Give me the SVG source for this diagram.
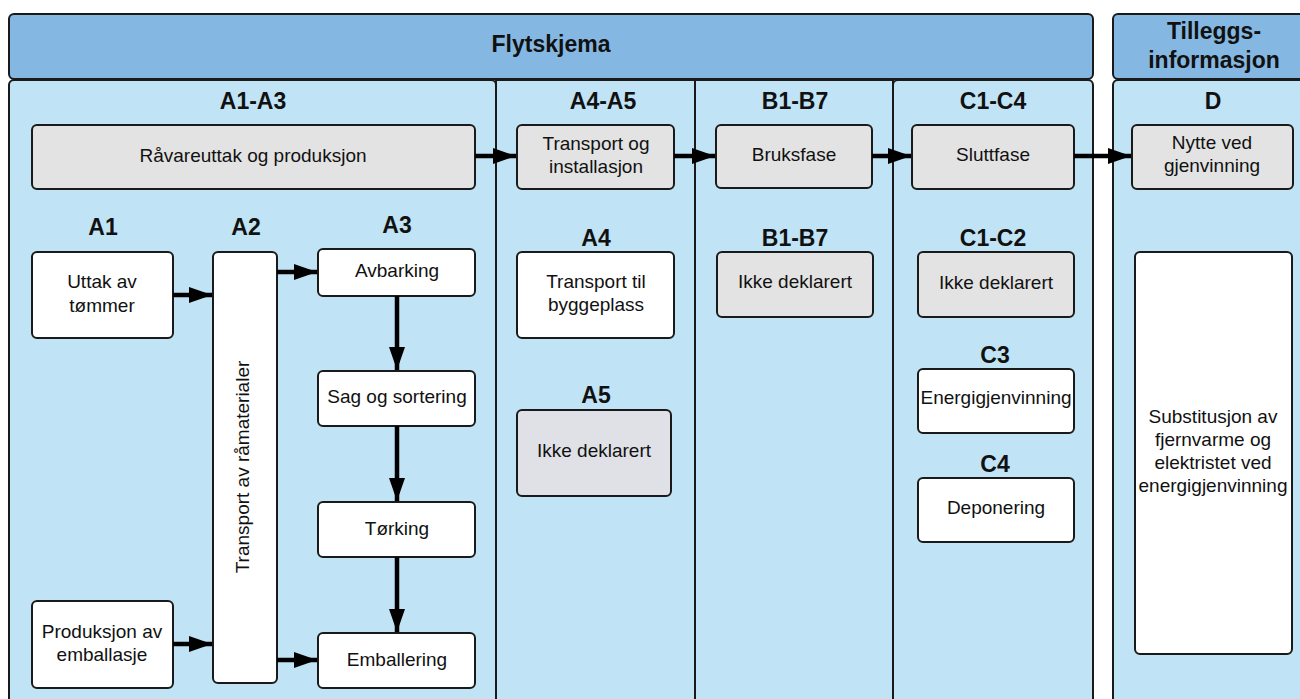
<svg xmlns="http://www.w3.org/2000/svg" width="1300" height="699" viewBox="0 0 1300 699">
<defs>
<style>
.hdr{fill:#84b8e2;stroke:#1a1a1a;stroke-width:2}
.pnl{fill:#c0e3f5;stroke:#1a1a1a;stroke-width:2}
.gray{fill:#e3e3e3;stroke:#1a1a1a;stroke-width:2}
.gray2{fill:#dfe1e6;stroke:#1a1a1a;stroke-width:2}
.wht{fill:#ffffff;stroke:#1a1a1a;stroke-width:2}
.t{font-family:"Liberation Sans",Arial,sans-serif;font-size:19px;fill:#111;text-anchor:middle}
.b{font-family:"Liberation Sans",Arial,sans-serif;font-size:23px;font-weight:bold;fill:#111;text-anchor:middle}
.ar{stroke:#000;stroke-width:4.5;fill:none;marker-end:url(#ah)}
</style>
<marker id="ah" markerUnits="userSpaceOnUse" markerWidth="24" markerHeight="18" refX="23" refY="8" orient="auto">
<path d="M0,0 L23,8 L0,16 Z" fill="#000"/>
</marker>
</defs>

<g id="headers">
<rect class="hdr" x="9" y="14" width="1084" height="65" rx="5"/>
<text class="b" x="551" y="52">Flytskjema</text>
<rect class="hdr" x="1113" y="14" width="210" height="65" rx="5"/>
<text class="b" x="1214" y="39">Tilleggs-</text>
<text class="b" x="1214" y="68">informasjon</text>
</g>

<g id="panels">
<rect class="pnl" x="9" y="80" width="487" height="640" rx="5"/>
<rect class="pnl" x="496" y="80" width="199" height="640"/>
<rect class="pnl" x="695" y="80" width="198" height="640"/>
<rect class="pnl" x="893" y="80" width="200" height="640" rx="5"/>
<rect class="pnl" x="1113" y="80" width="210" height="640" rx="5"/>
<text class="b" x="253" y="109">A1-A3</text>
<text class="b" x="603" y="109">A4-A5</text>
<text class="b" x="795" y="109">B1-B7</text>
<text class="b" x="993" y="109">C1-C4</text>
<text class="b" x="1213" y="109">D</text>
</g>

<g id="n-raavare">
<rect class="gray" x="32" y="125" width="443" height="64" rx="5"/>
<text class="t" x="253" y="162">Råvareuttak og produksjon</text>
</g>
<g id="n-transport-inst">
<rect class="gray" x="517" y="125" width="157" height="64" rx="5"/>
<text class="t" x="596" y="150">Transport og</text>
<text class="t" x="596" y="173">installasjon</text>
</g>
<g id="n-bruksfase">
<rect class="gray" x="716" y="125" width="156" height="63" rx="5"/>
<text class="t" x="794" y="161">Bruksfase</text>
</g>
<g id="n-sluttfase">
<rect class="gray" x="912" y="125" width="162" height="64" rx="5"/>
<text class="t" x="993" y="161">Sluttfase</text>
</g>
<g id="n-nytte">
<rect class="gray" x="1132" y="125" width="161" height="64" rx="5"/>
<text class="t" x="1212" y="149">Nytte ved</text>
<text class="t" x="1212" y="172">gjenvinning</text>
</g>

<g id="sublabels">
<text class="b" x="103" y="235">A1</text>
<text class="b" x="246" y="235">A2</text>
<text class="b" x="397" y="233">A3</text>
<text class="b" x="596" y="246">A4</text>
<text class="b" x="596" y="403">A5</text>
<text class="b" x="795" y="246">B1-B7</text>
<text class="b" x="993" y="246">C1-C2</text>
<text class="b" x="995" y="363">C3</text>
<text class="b" x="995" y="472">C4</text>
</g>

<g id="n-uttak">
<rect class="wht" x="32" y="252" width="141" height="86" rx="5"/>
<text class="t" x="102" y="288">Uttak av</text>
<text class="t" x="102" y="312">tømmer</text>
</g>
<g id="n-produksjon">
<rect class="wht" x="32" y="601" width="141" height="87" rx="5"/>
<text class="t" x="102" y="638">Produksjon av</text>
<text class="t" x="102" y="661">emballasje</text>
</g>
<g id="n-a2">
<rect class="wht" x="213" y="252" width="64" height="431" rx="5"/>
<text class="t" transform="translate(249,467) rotate(-90)" x="0" y="0">Transport av råmaterialer</text>
</g>
<g id="n-avbarking">
<rect class="wht" x="318" y="249" width="157" height="47" rx="5"/>
<text class="t" x="397" y="277">Avbarking</text>
</g>
<g id="n-sag">
<rect class="wht" x="318" y="371" width="157" height="55" rx="5"/>
<text class="t" x="397" y="403">Sag og sortering</text>
</g>
<g id="n-torking">
<rect class="wht" x="318" y="502" width="157" height="55" rx="5"/>
<text class="t" x="397" y="535">Tørking</text>
</g>
<g id="n-emballering">
<rect class="wht" x="318" y="633" width="157" height="55" rx="5"/>
<text class="t" x="397" y="666">Emballering</text>
</g>

<g id="n-a4">
<rect class="wht" x="517" y="252" width="157" height="86" rx="5"/>
<text class="t" x="596" y="288">Transport til</text>
<text class="t" x="596" y="311">byggeplass</text>
</g>
<g id="n-a5">
<rect class="gray2" x="517" y="410" width="154" height="86" rx="5"/>
<text class="t" x="594" y="457">Ikke deklarert</text>
</g>
<g id="n-b">
<rect class="gray" x="717" y="252" width="156" height="65" rx="5"/>
<text class="t" x="795" y="288">Ikke deklarert</text>
</g>
<g id="n-c12">
<rect class="gray" x="918" y="252" width="156" height="65" rx="5"/>
<text class="t" x="996" y="289">Ikke deklarert</text>
</g>
<g id="n-c3">
<rect class="wht" x="918" y="369" width="156" height="64" rx="5"/>
<text class="t" x="996" y="404">Energigjenvinning</text>
</g>
<g id="n-c4">
<rect class="wht" x="918" y="478" width="156" height="64" rx="5"/>
<text class="t" x="996" y="514">Deponering</text>
</g>
<g id="n-d">
<rect class="wht" x="1135" y="252" width="157" height="402" rx="5"/>
<text class="t" x="1213" y="423">Substitusjon av</text>
<text class="t" x="1213" y="446">fjernvarme og</text>
<text class="t" x="1213" y="469">elektristet ved</text>
<text class="t" x="1213" y="492">energigjenvinning</text>
</g>

<g id="connectors">
<line class="ar" x1="475" y1="156" x2="516" y2="156"/>
<line class="ar" x1="674" y1="156" x2="715" y2="156"/>
<line class="ar" x1="872" y1="156" x2="911" y2="156"/>
<line class="ar" x1="1074" y1="156" x2="1131" y2="156"/>
<line class="ar" x1="173" y1="295" x2="212" y2="295"/>
<line class="ar" x1="173" y1="644" x2="212" y2="644"/>
<line class="ar" x1="277" y1="272" x2="317" y2="272"/>
<line class="ar" x1="277" y1="660" x2="317" y2="660"/>
<line class="ar" x1="397" y1="296" x2="397" y2="370"/>
<line class="ar" x1="397" y1="426" x2="397" y2="501"/>
<line class="ar" x1="397" y1="557" x2="397" y2="632"/>
</g>
</svg>
